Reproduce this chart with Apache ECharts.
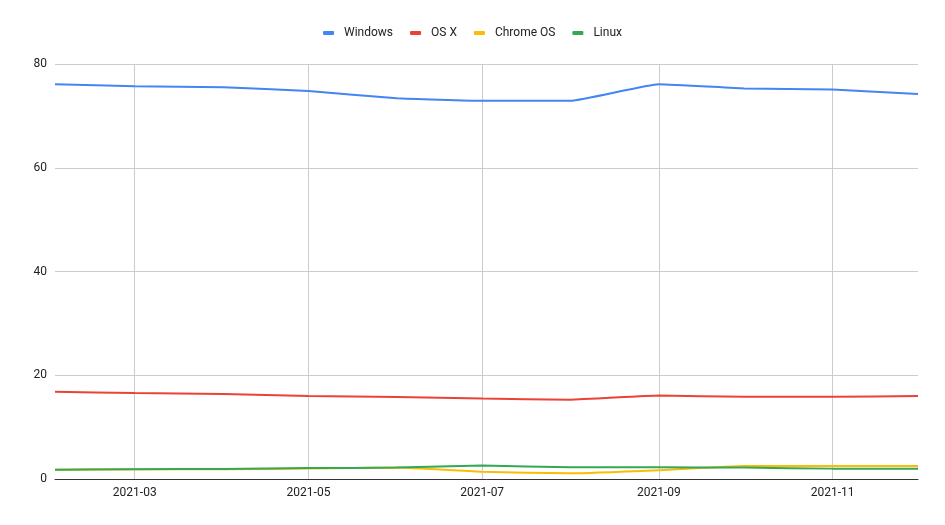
<!DOCTYPE html>
<html>
<head>
<meta charset="utf-8">
<script src="https://cdn.jsdelivr.net/npm/echarts@6/dist/echarts.min.js"></script>
<style>html,body{margin:0;padding:0;background:#fff}#c{width:945px;height:525px}</style>
</head>
<body>
<div id="c"></div>
<script>
const months = ['2021-02-01','2021-03-01','2021-04-01','2021-05-01','2021-06-01','2021-07-01','2021-08-01','2021-09-01','2021-10-01','2021-11-01','2021-12-01'];
const windows = [76.1, 75.7, 75.5, 74.8, 73.4, 72.9, 72.9, 76.1, 75.3, 75.1, 74.2];
const osx = [16.8, 16.6, 16.4, 16.0, 15.8, 15.5, 15.3, 16.1, 15.85, 15.85, 16.0];
const chromeos = [1.8, 1.9, 1.9, 2.0, 2.2, 1.4, 1.1, 1.7, 2.5, 2.5, 2.5];
const linux = [1.8, 1.9, 1.95, 2.1, 2.2, 2.6, 2.25, 2.25, 2.2, 2.0, 2.0];
const xTickLabels = ['2021-03-01','2021-05-01','2021-07-01','2021-09-01','2021-11-01'];
const yTicks = [0, 20, 40, 60, 80];

const ts = d => new Date(d + 'T00:00:00Z').getTime();
const mk = arr => months.map((m, i) => [ts(m), arr[i]]);
const fmt = v => { const d = new Date(v); return d.getUTCFullYear() + '-' + String(d.getUTCMonth() + 1).padStart(2, '0'); };

const chart = echarts.init(document.getElementById('c'));
const font = 'Roboto, Arial, sans-serif';
const ser = (name, data, color) => ({
  name, type: 'line', data: mk(data), smooth: 0.12, showSymbol: false, symbol: 'none',
  lineStyle: { width: 2, color }, itemStyle: { color }
});
chart.setOption({
  animation: false,
  textStyle: { fontFamily: font },
  legend: {
    top: 22, left: 'center', itemWidth: 11, itemHeight: 4, itemGap: 17,
    icon: 'roundRect',
    textStyle: { fontFamily: font, fontSize: 12, color: '#222', padding: [0, 0, 0, 5] },
    data: ['Windows', 'OS X', 'Chrome OS', 'Linux']
  },
  grid: { left: 55, right: 27, top: 64, bottom: 46, containLabel: false },
  xAxis: {
    type: 'value', min: ts(months[0]), max: ts(months[months.length - 1]), scale: true,
    axisLine: { show: true, onZero: false, lineStyle: { color: '#333', width: 1 } },
    axisTick: { show: false, customValues: xTickLabels.map(ts) },
    axisLabel: { customValues: xTickLabels.map(ts), formatter: v => fmt(v), color: '#222', fontSize: 12, fontFamily: font, margin: 8, showMinLabel: true, showMaxLabel: true },
    splitLine: { show: true, lineStyle: { color: '#ccc' } }
  },
  yAxis: {
    type: 'value', min: 0, max: 80, interval: 20,
    axisLine: { show: false }, axisTick: { show: false },
    axisLabel: { customValues: yTicks, color: '#222', fontSize: 12, fontFamily: font, margin: 8 },
    splitLine: { lineStyle: { color: '#ccc' } }
  },
  series: [
    ser('Windows', windows, '#4285F4'),
    ser('OS X', osx, '#EA4335'),
    ser('Chrome OS', chromeos, '#FBBC04'),
    ser('Linux', linux, '#34A853')
  ]
});
</script>
</body>
</html>
